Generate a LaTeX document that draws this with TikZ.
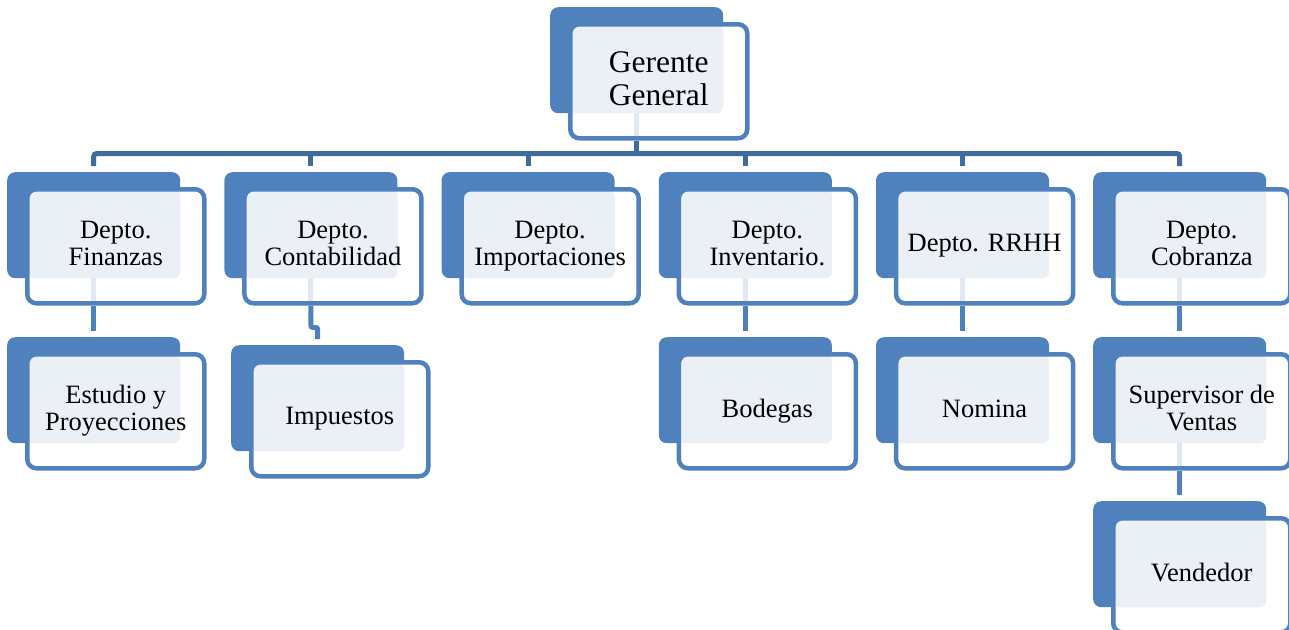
\documentclass[tikz,border=0pt]{standalone}
\usepackage{fontspec}
\setmainfont{Liberation Serif}
\usetikzlibrary{calc}
\definecolor{boxblue}{HTML}{4F81BD}
\definecolor{bardark}{HTML}{3F6B9E}
\definecolor{lightfill}{HTML}{EBF0F7}
\definecolor{paleline}{HTML}{E1E8F2}
\pgfdeclarelayer{background}
\pgfsetlayers{background,main}
\tikzset{
  backbox/.style={rectangle, fill=boxblue, rounded corners=8pt, minimum width=173pt, minimum height=106pt, inner sep=0pt, anchor=north west},
  frontbox/.style={rectangle, draw=boxblue, fill=white, line width=4.5pt, rounded corners=9pt, minimum width=177pt, minimum height=114pt, inner sep=0pt, anchor=north west, align=center, text=black, text depth=6pt, font=\fontsize{26.5}{27}\selectfont},
  barline/.style={draw=bardark, line width=5pt},
  connline/.style={draw=boxblue, line width=5pt},
  palestroke/.style={draw=paleline, line width=5pt}
}
\newcommand\orgbox[6][]{%
  \node[backbox] (#2b) at (#3,#4) {};
  \node[frontbox, #1, path picture={
      \fill[lightfill, rounded corners=7pt] (path picture bounding box.north west) rectangle (#2b.south east);
      #6}] (#2) at ({#3+18},{#4+15}) {#5};
}
\newcommand\paleseg[1]{\draw[palestroke] (#1b.south) -- ++(0,30);}
\begin{document}
\begin{tikzpicture}[x=1pt,y=-1pt]
\useasboundingbox (0,0) rectangle (1289,629);
% boxes
\orgbox[font=\fontsize{31.5}{33}\selectfont]{g}{550}{7}{Gerente\\General}{\paleseg{g}}
\orgbox{d1}{7}{172}{Depto.\\Finanzas}{\paleseg{d1}}
\orgbox{d2}{224.2}{172}{Depto.\\Contabilidad}{\paleseg{d2}}
\orgbox{d3}{441.4}{172}{Depto.\\Importaciones}{}
\orgbox{d4}{658.6}{172}{Depto.\\Inventario.}{\paleseg{d4}}
\orgbox{d5}{875.8}{172}{Depto. RRHH}{\paleseg{d5}}
\orgbox{d6}{1093}{172}{Depto.\\Cobranza}{\paleseg{d6}}
\orgbox{e1}{7}{337}{Estudio y\\Proyecciones}{}
\orgbox{e2}{231}{345}{Impuestos}{}
\orgbox{e4}{658.6}{337}{Bodegas}{}
\orgbox{e5}{875.8}{337}{Nomina}{}
\orgbox{e6}{1093}{337}{Supervisor de\\Ventas}{\paleseg{e6}}
\orgbox{v6}{1093}{501}{Vendedor}{}
% connectors
\begin{pgfonlayer}{background}
\coordinate (bar) at ($(d1b.north)+(0,-18.5)$);
\draw[barline] (gb.south |- g.south) -- (gb.south |- bar);
\draw[barline, rounded corners=3pt] ($(d1b.north)+(0,-6)$) |- ($(d6b.north)+(0,-18.5)$) -- ($(d6b.north)+(0,-6)$);
\foreach \n in {d2,d3,d4,d5}{
  \draw[barline] (\n b.north |- bar) -- ($(\n b.north)+(0,-6)$);
}
\draw[connline] (d1b.south |- d1.south) -- ($(e1b.north)+(0,-6)$);
\draw[connline, rounded corners=2pt] (d2b.south |- d2.south) -- ($(d2b.south |- d2.south)+(0,22)$) -| ($(e2b.north)+(0,-6)$);
\draw[connline] (d4b.south |- d4.south) -- ($(e4b.north)+(0,-6)$);
\draw[connline] (d5b.south |- d5.south) -- ($(e5b.north)+(0,-6)$);
\draw[connline] (d6b.south |- d6.south) -- ($(e6b.north)+(0,-6)$);
\draw[connline] (e6b.south |- e6.south) -- ($(v6b.north)+(0,-6)$);
\end{pgfonlayer}
\end{tikzpicture}
\end{document}
